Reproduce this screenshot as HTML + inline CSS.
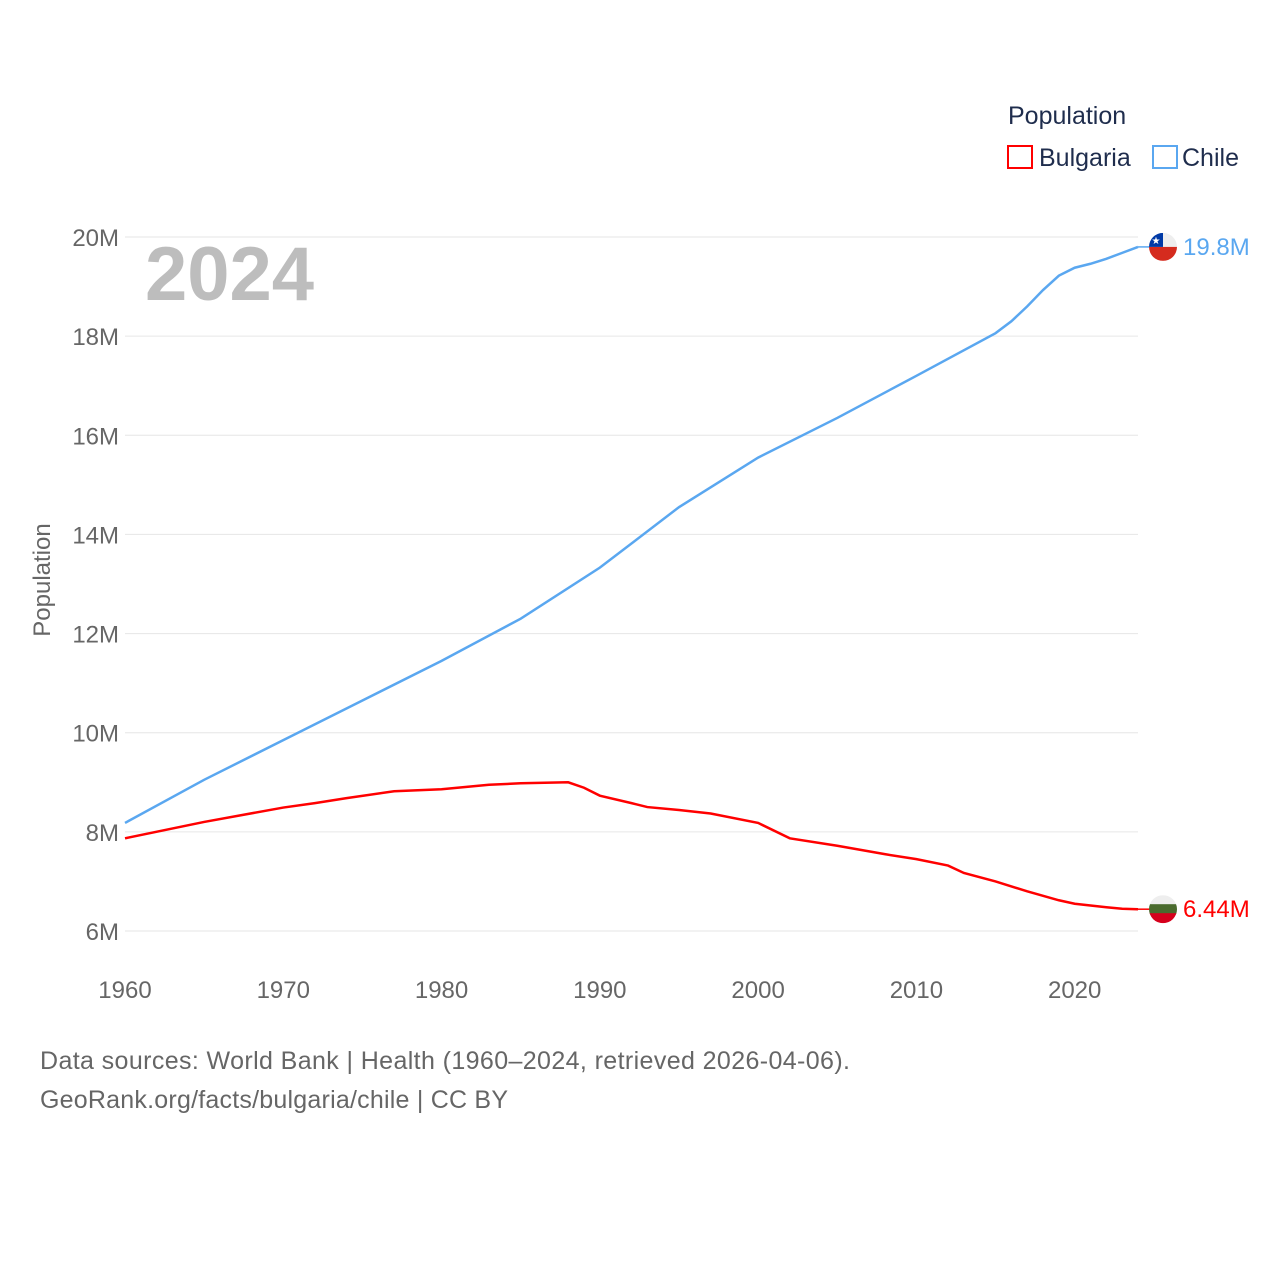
<!DOCTYPE html>
<html><head><meta charset="utf-8"><style>
body{margin:0;background:#fff;font-family:"Liberation Sans",sans-serif}
svg text{font-family:"Liberation Sans",sans-serif}
</style></head><body>
<svg id="c" width="1280" height="1280" xmlns="http://www.w3.org/2000/svg">
<text x="1008" y="124" font-size="25" fill="#1f2d4d">Population</text>
<g><rect x="1008" y="146" width="24" height="22" fill="none" stroke="#f00" stroke-width="2"/><text x="1039" y="166" font-size="25" fill="#1f2d4d">Bulgaria</text></g>
<g><rect x="1153" y="146" width="24" height="22" fill="none" stroke="#5aa7f0" stroke-width="2"/><text x="1182" y="166" font-size="25" fill="#1f2d4d">Chile</text></g>
<text x="145" y="300" font-size="76" font-weight="bold" fill="#bdbdbd">2024</text>
<text transform="translate(50,580) rotate(-90)" text-anchor="middle" font-size="24" fill="#666">Population</text>
<g id="grid"></g><g id="lines"></g>
<text x="40" y="1069" font-size="25" fill="#666" textLength="810">Data sources: World Bank | Health (1960–2024, retrieved 2026-04-06).</text>
<text x="40" y="1108" font-size="25" fill="#666" textLength="468">GeoRank.org/facts/bulgaria/chile | CC BY</text>
</svg>
<script>
const yTicks=[6,8,10,12,14,16,18,20];
const xTicks=[1960,1970,1980,1990,2000,2010,2020];
const chileYears=[1960,1965,1970,1975,1980,1985,1990,1995,2000,2005,2010,2015,2016,2017,2018,2019,2020,2021,2022,2023,2024];
const chileVals=[8.18,9.05,9.85,10.65,11.45,12.3,13.33,14.55,15.55,16.35,17.2,18.06,18.3,18.6,18.93,19.22,19.38,19.46,19.56,19.68,19.8];
const bgYears=[1960,1965,1970,1972,1974,1977,1980,1983,1985,1988,1989,1990,1992,1993,1995,1997,2000,2002,2005,2008,2010,2012,2013,2015,2017,2019,2020,2022,2023,2024];
const bgVals=[7.87,8.2,8.49,8.58,8.68,8.82,8.86,8.95,8.98,9.0,8.89,8.73,8.58,8.5,8.44,8.37,8.18,7.87,7.72,7.55,7.45,7.32,7.17,7.0,6.8,6.62,6.55,6.48,6.45,6.44];
const X=y=>125+(y-1960)*(1138-125)/64;
const Y=v=>931-(v-6)*(931-237)/14;
const NS='http://www.w3.org/2000/svg';
const g=document.getElementById('grid'),L=document.getElementById('lines');
function el(t,a,p){const e=document.createElementNS(NS,t);for(const k in a)e.setAttribute(k,a[k]);p.appendChild(e);return e;}
yTicks.forEach(v=>{
 const l=el('line',{x1:125,x2:1138,y1:Y(v),y2:Y(v),stroke:'#e6e6e6','stroke-width':1},g);
 
 
 const t=el('text',{x:119,y:Y(v)+9,'text-anchor':'end','font-size':24,fill:'#666'},g);t.textContent=v+'M';
 
 
});
xTicks.forEach(y=>{
 const t=el('text',{x:X(y),y:998,'text-anchor':'middle','font-size':24,fill:'#666'},g);t.textContent=y;
 
 
});
function series(ys,vs,c,name){
 const p=el('path',{d:ys.map((y,i)=>(i?'L':'M')+X(y)+','+Y(vs[i])).join(''),fill:'none',stroke:c,'stroke-width':2.5},L);
 
 
 const last=vs[vs.length-1];
 el('line',{x1:1138,x2:1150,y1:Y(last),y2:Y(last),stroke:c,'stroke-width':1.5},L);
 return Y(last);
}
const cy=series(chileYears,chileVals,'#5aa7f0','chile');
const by=series(bgYears,bgVals,'#f00','bulgaria');
const cf=el('g',{},L);


const cc=el('clipPath',{id:'cc'},cf);el('circle',{cx:1163,cy:cy,r:14},cc);
const cg=el('g',{'clip-path':'url(#cc)'},cf);
el('rect',{x:1149,y:cy-14,width:28,height:14,fill:'#eee'},cg);
el('rect',{x:1149,y:cy,width:28,height:14,fill:'#d52b1e'},cg);
el('rect',{x:1149,y:cy-14,width:14,height:14,fill:'#0039a6'},cg);
const st=el('text',{x:1156,y:cy-3,'text-anchor':'middle','font-size':10,fill:'#fff'},cg);st.textContent='★';
const ct=el('text',{x:1183,y:cy+8,'font-size':24,fill:'#5aa7f0'},L);ct.textContent='19.8M';


const bf=el('g',{},L);


const bc=el('clipPath',{id:'bc'},bf);el('circle',{cx:1163,cy:by,r:14},bc);
const bg2=el('g',{'clip-path':'url(#bc)'},bf);
el('rect',{x:1149,y:by-14,width:28,height:10,fill:'#eee'},bg2);
el('rect',{x:1149,y:by-5,width:28,height:10,fill:'#4a6b2e'},bg2);
el('rect',{x:1149,y:by+4,width:28,height:10,fill:'#d6001c'},bg2);
const bt=el('text',{x:1183,y:by+8,'font-size':24,fill:'#f00'},L);bt.textContent='6.44M';


</script>
</body></html>
